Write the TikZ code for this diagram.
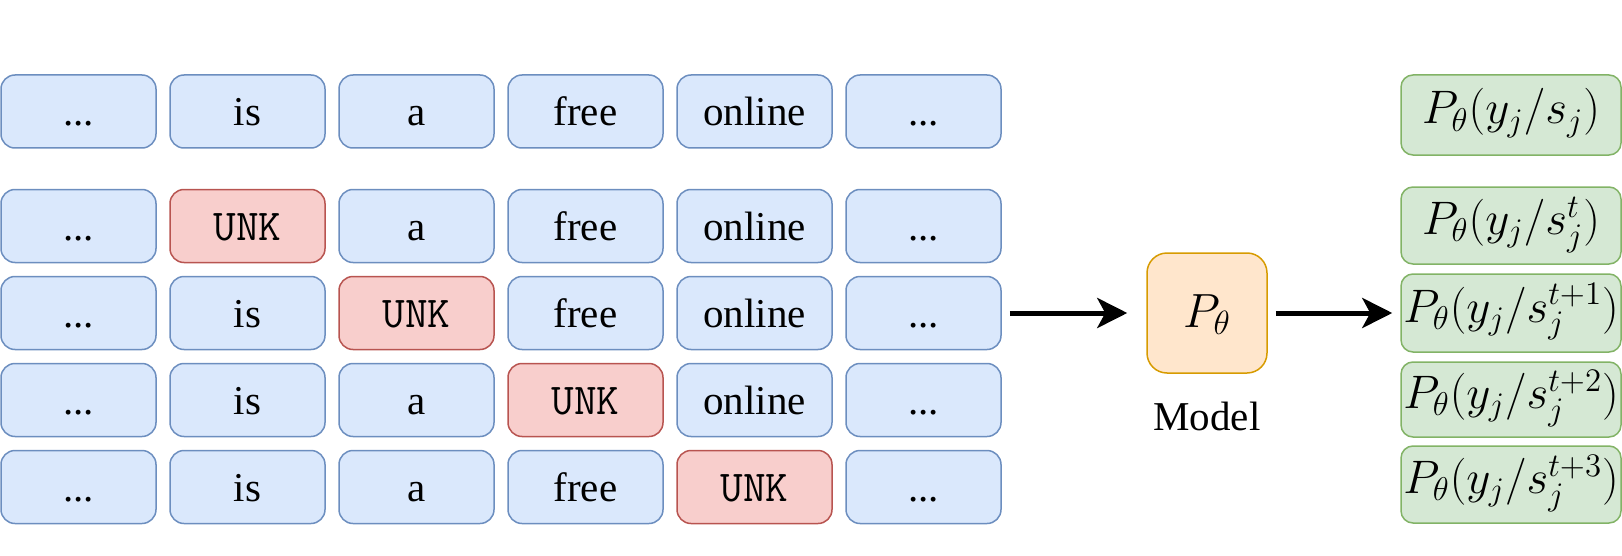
\RequirePackage{fix-cm}
\documentclass[tikz,border=0pt]{standalone}
\usepackage{fontspec}
\setmainfont{Liberation Serif}
\usetikzlibrary{arrows.meta}
\definecolor{bfill}{HTML}{DAE8FC}
\definecolor{bstroke}{HTML}{6C8EBF}
\definecolor{rfill}{HTML}{F8CECC}
\definecolor{rstroke}{HTML}{B85450}
\definecolor{ofill}{HTML}{FFE6CC}
\definecolor{ostroke}{HTML}{D79B00}
\definecolor{gfill}{HTML}{D5E8D4}
\definecolor{gstroke}{HTML}{82B366}
\newcommand\tdots{...}
\begin{document}
\begin{tikzpicture}[x=0.5pt,y=-0.5pt,
  font=\fontsize{20.5}{24}\selectfont,
  tok/.style={draw=bstroke, fill=bfill, rounded corners=7pt, line width=0.75pt,
    minimum width=77.5pt, minimum height=36.5pt, inner sep=0pt,
    text height=16pt, text depth=2pt},
  unk/.style={tok, draw=rstroke, fill=rfill, font=\fontsize{22}{26}\selectfont\ttfamily},
  prob/.style={draw=gstroke, fill=gfill, rounded corners=6pt, line width=0.75pt,
    minimum width=110pt, inner sep=0pt, text height=15pt, text depth=6pt,
    font=\fontsize{23.5}{28}\selectfont},
  modelbox/.style={draw=ostroke, fill=ofill, rounded corners=10pt, line width=0.75pt,
    minimum width=60pt, minimum height=60pt, inner sep=0pt,
    text height=17pt, text depth=3pt, font=\fontsize{24}{28}\selectfont},
  arr/.style={line width=2.5pt, -{Stealth[length=15pt,width=15pt,inset=4pt]}}
]
\useasboundingbox (0,0) rectangle (1622,556);

\foreach \r/\y in {0/111.5,1/226,2/313,3/400,4/487}{
  \foreach \c/\x/\w in {0/78.5/\tdots,1/247.5/is,2/416.5/a,3/585.5/free,4/754.5/online,5/923.5/\tdots}{
    \pgfmathtruncatemacro\isunk{and(\r==\c,\r>0)}
    \ifnum\isunk=1
      \node[unk] (t\r\c) at (\x,\y) {UNK};
    \else
      \node[tok] (t\r\c) at (\x,\y) {\w};
    \fi
  }
}

\node[modelbox] (model) at (1207,313) {$P_\theta$};
\node[anchor=base] (mlab) at (1207,430) {Model};

\node[prob, minimum height=40pt]   (g0) at (1511,115)   {$P_\theta(y_j/s_j)$};
\node[prob, minimum height=38.5pt] (g1) at (1511,225.5) {$P_\theta(y_j/s_j^t)$};
\node[prob, minimum height=39pt]   (g2) at (1511,313)   {$P_\theta(y_j/s_j^{t+1})$};
\node[prob, minimum height=37.5pt] (g3) at (1511,399.5) {$P_\theta(y_j/s_j^{t+2})$};
\node[prob, minimum height=38.5pt] (g4) at (1511,484.5) {$P_\theta(y_j/s_j^{t+3})$};

\draw[arr] ([xshift=4pt]t25.east) -- ([xshift=-9.5pt]model.west);
\draw[arr] ([xshift=4pt]model.east) -- ([xshift=-4pt]g2.west);
\end{tikzpicture}
\end{document}
